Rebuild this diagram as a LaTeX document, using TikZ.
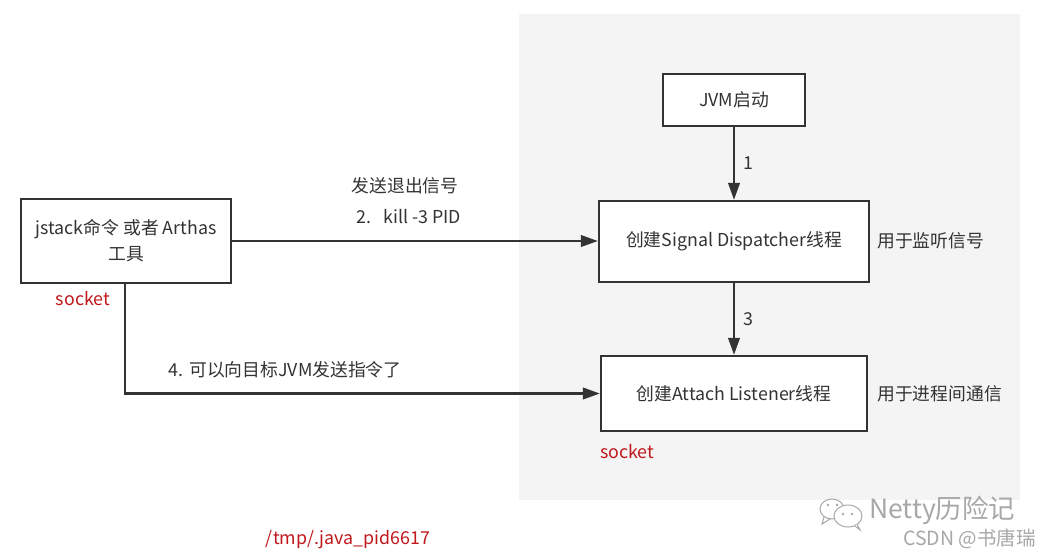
\documentclass[tikz,border=0pt]{standalone}
\usepackage{fontspec}
\setmainfont{Noto Sans CJK SC}
\usetikzlibrary{arrows.meta}
\definecolor{ink}{HTML}{333333}
\definecolor{redtxt}{HTML}{C0181C}
\definecolor{panel}{HTML}{F4F4F4}
\definecolor{wm}{HTML}{A8A8A8}
\begin{document}
\begin{tikzpicture}[x=1pt,y=-1pt,
  every node/.style={font=\fontsize{17.8}{26}\selectfont, text=ink, inner sep=0pt},
  box/.style={draw=ink, line width=2.3pt, fill=white, align=center},
  conn/.style={draw=ink, line width=2.3pt, -{Triangle[length=17pt,width=11.5pt]}},
  lbl/.style={text=ink},
  redlbl/.style={text=redtxt},
  wmtext/.style={text=wm}
]
\useasboundingbox (0,0) rectangle (1048,557);
\fill[white] (0,0) rectangle (1048,557);
\fill[panel] (519,14) rectangle (1020,500);

\node[box, minimum width=210pt, minimum height=84pt] (jstack) at (126,241) {jstack命令 或者 Arthas\\工具};
\node[box, minimum width=142pt, minimum height=52pt] (jvm) at (734,100) {JVM启动};
\node[box, minimum width=270pt, minimum height=81pt] (signal) at (734,241.5) {创建Signal Dispatcher线程};
\node[box, minimum width=266pt, minimum height=75pt] (attach) at (734,393.5) {创建Attach Listener线程};

\draw[conn] (jvm) -- node[lbl, right=8pt] (l1) {1} (signal);
\draw[conn] (signal) -- node[lbl, right=8pt] (l3) {3} (attach);
\draw[conn] (jstack.east) -- (signal.west |- jstack.east);
\draw[conn] ([xshift=-1pt]jstack.south) |- (attach.west);

\node[lbl] (send) at (405,186) {发送退出信号};
\node[lbl] (kill) at (409,217) {2.\hspace{12pt}kill -3 PID};
\node[lbl] (cmd) at (285,370) {4.\hspace{6pt}可以向目标JVM发送指令了};
\node[lbl, anchor=west] (listen) at (877,241) {用于监听信号};
\node[lbl, anchor=west] (ipc) at (877,394) {用于进程间通信};
\node[redlbl] (sock1) at (83,299) {socket};
\node[redlbl, anchor=west] (sock2) at (600,452) {socket};
\node[redlbl] (tmp) at (348,540) {/tmp/.java\_pid6617};

% watermark
\begin{scope}[draw=wm, line width=1pt]
  \draw[fill=white] (832,509) ellipse (12pt and 10pt);
  \draw (824,517) -- (822,524) -- (830,519);
  \draw[fill=white] (848,516) ellipse (14pt and 11pt);
  \draw[fill=white] (855,526) -- (860,530) -- (857,524);
  \fill[wm] (828,505) circle (1.3pt) (837,505) circle (1.3pt) (843,514) circle (1.3pt) (852,514) circle (1.3pt);
\end{scope}
\node[wmtext, font=\fontsize{26.5}{30}\selectfont, anchor=west] (wm1) at (869,510) {Netty历险记};
\node[wmtext, font=\fontsize{19.5}{22}\selectfont, anchor=west] (wm2) at (903,539) {CSDN @书唐瑞};
\end{tikzpicture}
\end{document}
